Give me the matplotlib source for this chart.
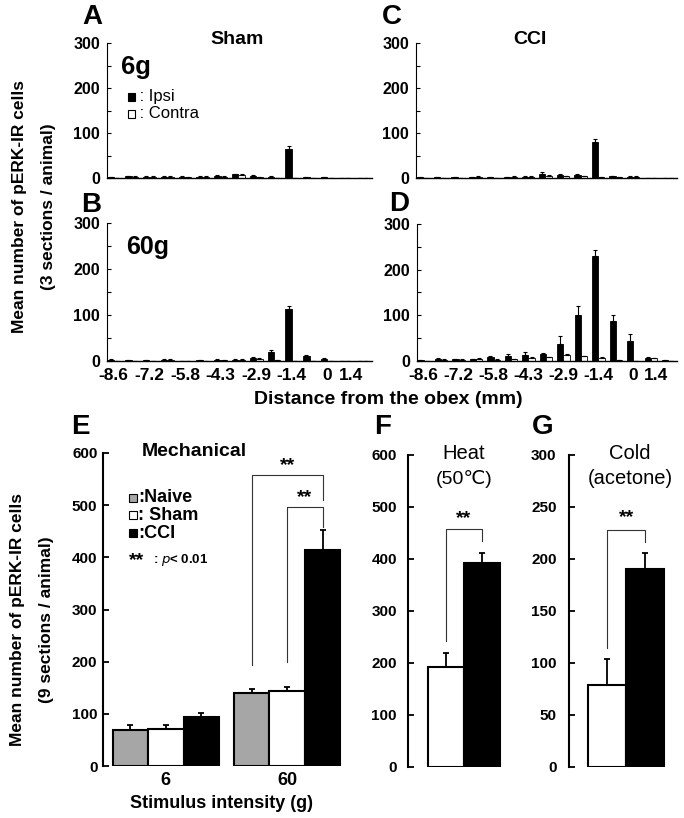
import matplotlib
matplotlib.use('Agg')
import matplotlib.pyplot as plt
from matplotlib.patches import Rectangle
import numpy as np

plt.rcParams['font.family'] = ['Liberation Sans', 'DejaVu Sans']

# ---- data: panels A-D (15 rostro-caudal levels, ipsi / contra) ----
obex_labels = ['-8.6', '-7.2', '-5.8', '-4.3', '-2.9', '-1.4', '0', '1.4']
obex_label_idx = [0, 2, 4, 6, 8, 10, 12, 13.3]

sham6_ipsi = [2, 4, 3, 3, 3, 3, 5, 8, 5, 3, 65, 2, 2, 1, 1]
sham6_ipsi_err = [1, 1, 1, 1, 1, 1, 1, 1, 1, 1, 6, 1, 1, 0, 0]
sham6_contra = [1, 3, 3, 3, 2, 3, 3, 7, 2, 1, 1, 1, 1, 1, 1]
sham6_contra_err = [0, 1, 1, 1, 0, 1, 1, 1, 1, 0, 0, 0, 0, 0, 0]

sham60_ipsi = [3, 2, 2, 3, 1, 2, 3, 3, 7, 20, 113, 10, 5, 1, 1]
sham60_ipsi_err = [1, 1, 1, 1, 0, 1, 1, 1, 1, 3, 6, 2, 1, 0, 0]
sham60_contra = [1, 1, 1, 3, 1, 1, 2, 3, 5, 2, 1, 1, 1, 0, 0]
sham60_contra_err = [0, 0, 0, 1, 0, 0, 1, 1, 2, 1, 0, 0, 0, 0, 0]

cci6_ipsi = [2, 2, 2, 2, 2, 2, 3, 8, 7, 7, 80, 4, 3, 1, 1]
cci6_ipsi_err = [0, 0, 0, 0, 0, 1, 1, 5, 1, 1, 7, 1, 1, 0, 0]
cci6_contra = [1, 1, 1, 3, 1, 3, 3, 5, 4, 4, 2, 2, 3, 1, 1]
cci6_contra_err = [0, 0, 0, 1, 0, 1, 1, 1, 1, 1, 0, 1, 1, 0, 0]

cci60_ipsi = [2, 5, 4, 4, 8, 10, 14, 16, 38, 100, 230, 87, 44, 6, 2]
cci60_ipsi_err = [0, 1, 1, 1, 2, 5, 6, 2, 16, 20, 13, 13, 16, 3, 0]
cci60_contra = [1, 3, 3, 5, 3, 4, 7, 8, 14, 11, 7, 2, 1, 6, 1]
cci60_contra_err = [0, 1, 1, 1, 1, 1, 1, 1, 2, 1, 1, 0, 0, 1, 0]

# ---- data: panel E (mechanical) ----
intensity_labels = ['6', '60']
naive_mech = [69, 139]
naive_mech_err = [9, 8]
sham_mech = [71, 144]
sham_mech_err = [7, 8]
cci_mech = [93, 414]
cci_mech_err = [9, 39]

# ---- data: panels F, G (sham, CCI) ----
heat = [193, 393]
heat_err = [27, 19]
cold = [79, 190]
cold_err = [25, 16]

W, H = 684, 818
fig = plt.figure(figsize=(W / 100, H / 100), dpi=100)


def fx(x):
    return x / W


def fy(y):
    return 1 - y / H


def add_ax(left, right, top, bottom):
    return fig.add_axes([fx(left), fy(bottom), (right - left) / W, (bottom - top) / H])


def ftext(x, y, s, **kw):
    kw.setdefault('ha', 'center')
    kw.setdefault('va', 'center')
    fig.text(fx(x), fy(y), s, **kw)


def fbox(x, y, size, color):
    fig.add_artist(Rectangle((fx(x - size / 2), fy(y + size / 2)), size / W, size / H,
                             transform=fig.transFigure, facecolor=color,
                             edgecolor='black', linewidth=0.8))


def obex_panel(ax, ipsi, ipsi_err, contra, contra_err):
    x = np.arange(len(ipsi))
    w = 0.36
    ax.bar(x - w / 2, ipsi, w, color='black', edgecolor='black', linewidth=0.6)
    ax.bar(x + w / 2, contra, w, color='white', edgecolor='black', linewidth=0.6)
    ax.errorbar(x - w / 2, ipsi, yerr=[np.zeros(len(ipsi)), ipsi_err], fmt='none',
                ecolor='black', elinewidth=0.8, capsize=1.5, capthick=0.8)
    ax.errorbar(x + w / 2, contra, yerr=[np.zeros(len(contra)), contra_err], fmt='none',
                ecolor='black', elinewidth=0.8, capsize=1.5, capthick=0.8)
    ax.set_xlim(-0.38, 14.5)
    ax.set_ylim(0, 300)
    ax.set_yticks([0, 100, 200, 300])
    ax.set_yticks([50, 150, 250], minor=True)
    ax.tick_params(axis='y', which='both', direction='in', length=3, width=0.8,
                   labelsize=11.5, pad=5)
    for lab in ax.get_yticklabels():
        lab.set_fontweight('bold')
    ax.spines['top'].set_visible(False)
    ax.spines['right'].set_visible(False)
    ax.spines['left'].set_linewidth(0.8)
    ax.spines['bottom'].set_linewidth(1.0)
    ax.set_xticks(obex_label_idx)
    ax.tick_params(axis='x', length=0, labelsize=12.5, pad=5)


axA = add_ax(107, 372, 43, 178)
axB = add_ax(107, 372, 223, 361)
axC = add_ax(416, 677, 43, 178)
axD = add_ax(417, 677, 224, 361)

obex_panel(axA, sham6_ipsi, sham6_ipsi_err, sham6_contra, sham6_contra_err)
obex_panel(axB, sham60_ipsi, sham60_ipsi_err, sham60_contra, sham60_contra_err)
obex_panel(axC, cci6_ipsi, cci6_ipsi_err, cci6_contra, cci6_contra_err)
obex_panel(axD, cci60_ipsi, cci60_ipsi_err, cci60_contra, cci60_contra_err)
for ax in (axA, axC):
    ax.set_xticklabels([])
for ax in (axB, axD):
    ax.set_xticklabels(obex_labels, fontweight='bold')

# panel texts (top)
ftext(92, 17, 'A', fontsize=20, fontweight='bold')
ftext(91, 205, 'B', fontsize=20, fontweight='bold')
ftext(392, 17, 'C', fontsize=20, fontweight='bold')
ftext(399, 204, 'D', fontsize=20, fontweight='bold')
ftext(237, 39, 'Sham', fontsize=14, fontweight='bold')
ftext(530, 39, 'CCI', fontsize=14, fontweight='bold')
ftext(121, 67, '6g', fontsize=18.5, fontweight='bold', ha='left')
ftext(126, 247, '60g', fontsize=18, fontweight='bold', ha='left')
fbox(131, 97, 7, 'black')
ftext(135, 97, ' : Ipsi', fontsize=12, ha='left')
fbox(131, 114, 7, 'white')
ftext(135, 114, ' : Contra', fontsize=12, ha='left')
ftext(388, 399, 'Distance from the obex (mm)', fontsize=14, fontweight='bold')
ftext(20, 207, 'Mean number of pERK-IR cells', fontsize=12.5, fontweight='bold', rotation=90)
ftext(49, 207, '(3 sections / animal)', fontsize=12.5, fontweight='bold', rotation=90)


def bottom_style(ax, ymax, step):
    ax.set_ylim(0, ymax)
    ax.set_yticks(np.arange(0, ymax + 1, step))
    ax.tick_params(axis='y', direction='in', length=4, width=1.3, labelsize=11)
    for lab in ax.get_yticklabels():
        lab.set_fontweight('bold')
    for s in ('top', 'right', 'bottom'):
        ax.spines[s].set_visible(False)
    ax.spines['left'].set_linewidth(1.5)


def bracket(ax, x1, x2, y1, y2, ytop, ystar):
    ax.plot([x1, x1, x2, x2], [y1, ytop, ytop, y2], color='#333333', linewidth=0.8,
            clip_on=False)
    ax.text((x1 + x2) / 2, ystar, '**', ha='center', va='center', fontsize=14,
            fontweight='bold')


# ---- E ----
axE = add_ax(103, 345, 453, 766)
bottom_style(axE, 600, 100)
grp = np.array([0, 3.42])
bw = 1.0
series = [(naive_mech, naive_mech_err, '#a6a6a6'),
          (sham_mech, sham_mech_err, 'white'),
          (cci_mech, cci_mech_err, 'black')]
for k, (vals, errs, col) in enumerate(series):
    xs = grp + k
    axE.bar(xs, vals, bw, color=col, edgecolor='black', linewidth=1.5)
    axE.errorbar(xs, vals, yerr=[np.zeros(2), errs], fmt='none', ecolor='black',
                 elinewidth=1.3, capsize=2.5, capthick=1.3)
axE.set_xlim(-0.77, 6.05)
axE.set_xticks(grp + 1)
axE.set_xticklabels(intensity_labels, fontsize=13, fontweight='bold')
axE.tick_params(axis='x', length=0, pad=4)
axE.tick_params(axis='y', pad=4)
bracket(axE, grp[1], grp[1] + 2, 193, 509, 557, 576)
bracket(axE, grp[1] + 1, grp[1] + 2, 200, 458, 497, 514)

ftext(80, 427, 'E', fontsize=20, fontweight='bold')
ftext(194, 452, 'Mechanical', fontsize=14, fontweight='bold')
fbox(133, 498, 8, '#a6a6a6')
ftext(138, 498, ':Naive', fontsize=13, fontweight='bold', ha='left')
fbox(133, 515, 8, 'white')
ftext(138, 515, ': Sham', fontsize=13, fontweight='bold', ha='left')
fbox(133, 533, 8, 'black')
ftext(138, 533, ':CCI', fontsize=13, fontweight='bold', ha='left')
ftext(129, 561, '**', fontsize=14, fontweight='bold', ha='left')
ftext(153, 560, ': $p$< 0.01', fontsize=9.5, fontweight='bold', ha='left')
ftext(222, 803, 'Stimulus intensity (g)', fontsize=13, fontweight='bold')
ftext(18, 620, 'Mean number of pERK-IR cells', fontsize=12.5, fontweight='bold', rotation=90)
ftext(47, 620, '(9 sections / animal)', fontsize=12.5, fontweight='bold', rotation=90)

# ---- F ----
axF = add_ax(408, 505, 455, 767)
bottom_style(axF, 600, 100)
axF.bar([0, 1], heat, 1.0, color=['white', 'black'], edgecolor='black', linewidth=1.5)
axF.errorbar([0, 1], heat, yerr=[np.zeros(2), heat_err], fmt='none', ecolor='black',
             elinewidth=1.3, capsize=2.5, capthick=1.3)
axF.set_xlim(-1.05, 1.65)
axF.set_xticks([])
axF.tick_params(axis='y', pad=8)
bracket(axF, 0, 1, 242, 435, 457, 478)
ftext(383, 427, 'F', fontsize=20, fontweight='bold')
ftext(464, 454, 'Heat', fontsize=14.5)
ftext(464, 479, '(50\u2103)', fontsize=14)

# ---- G ----
axG = add_ax(569, 668, 455, 767)
bottom_style(axG, 300, 50)
axG.bar([0, 1], cold, 1.0, color=['white', 'black'], edgecolor='black', linewidth=1.5)
axG.errorbar([0, 1], cold, yerr=[np.zeros(2), cold_err], fmt='none', ecolor='black',
             elinewidth=1.3, capsize=2.5, capthick=1.3)
axG.set_xlim(-1.0, 1.6)
axG.set_xticks([])
axG.tick_params(axis='y', pad=9)
bracket(axG, 0, 1, 114, 216, 228, 240)
ftext(543, 427, 'G', fontsize=20, fontweight='bold')
ftext(630, 454, 'Cold', fontsize=14.5)
ftext(630, 479, '(acetone)', fontsize=14.5)

fig.savefig('out.png', dpi=100)
